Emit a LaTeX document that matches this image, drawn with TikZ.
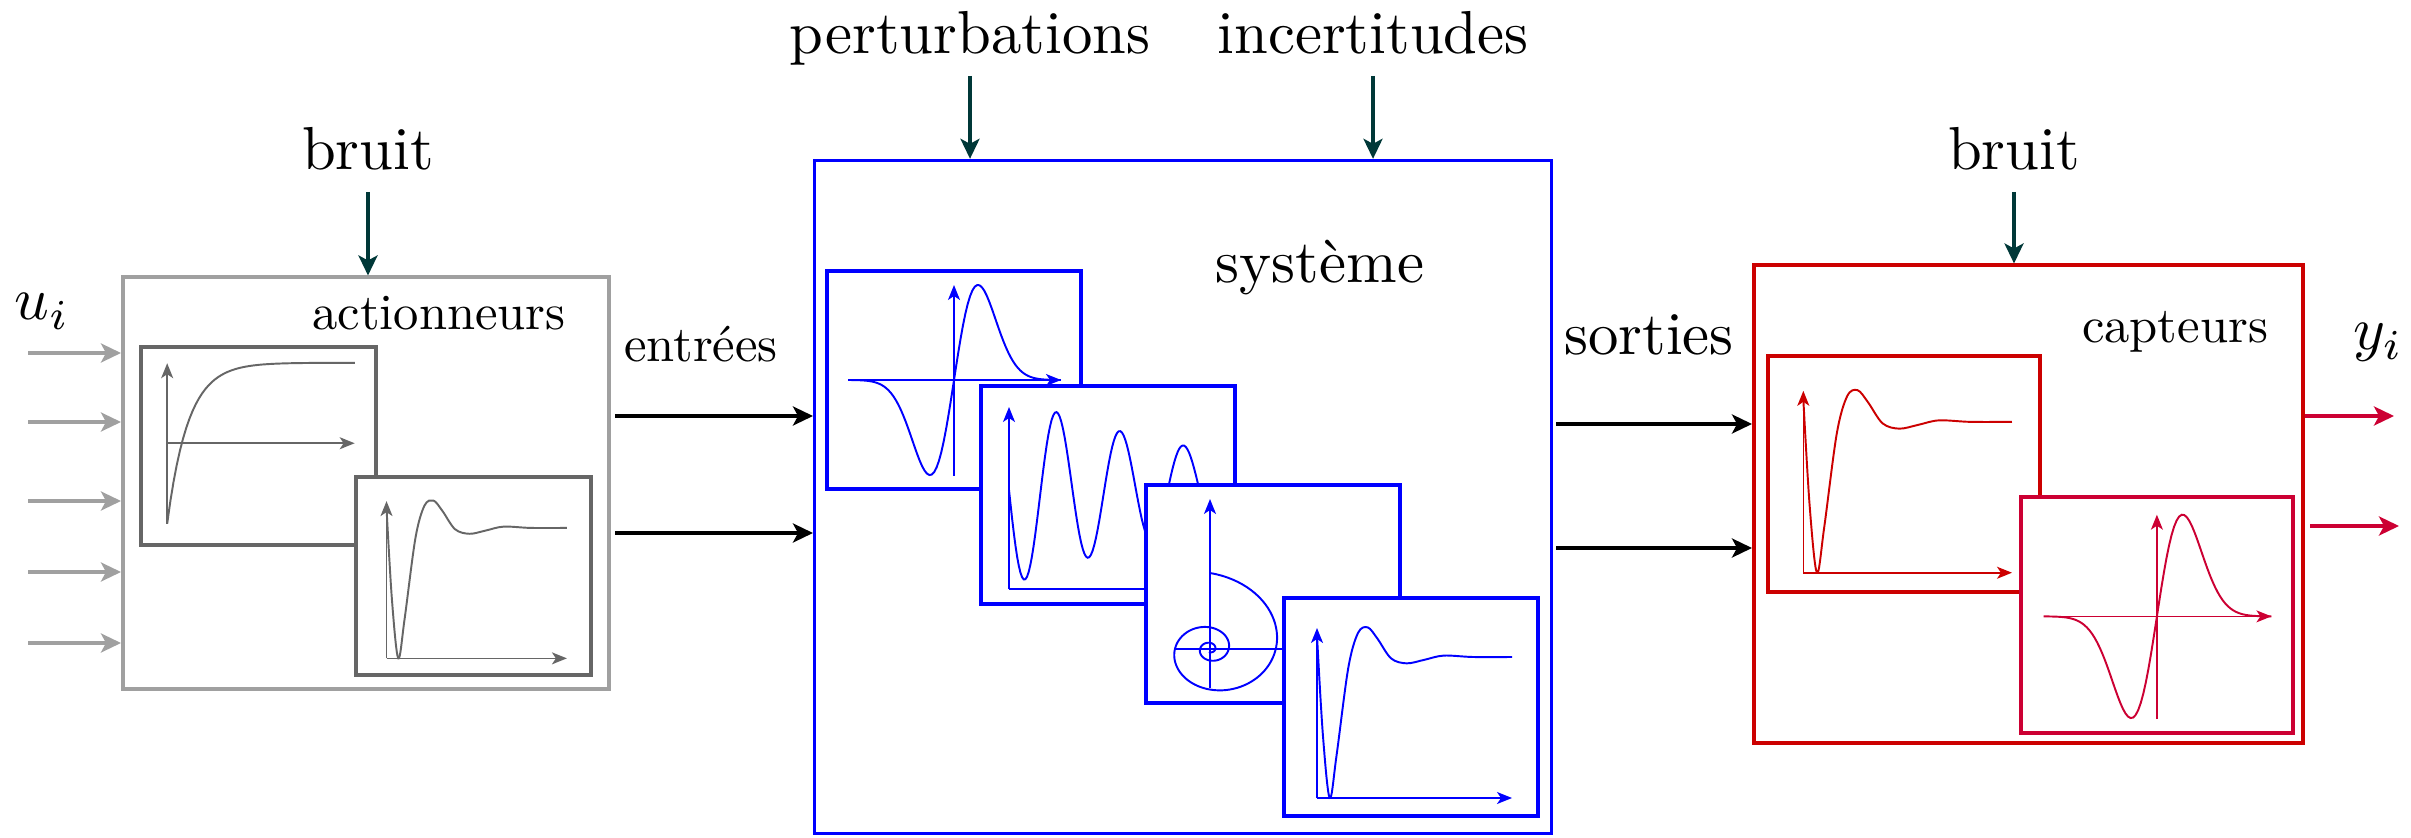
\documentclass[tikz,border=0pt]{standalone}
\usepackage{fontspec}
\usepackage{amsmath}
\usepackage{graphicx}
\usepackage{tikz}
\usetikzlibrary{arrows.meta}
\usepackage{xcolor}
\definecolor{actgris}{RGB}{160,160,160}
\definecolor{actfonce}{RGB}{102,102,102}
\definecolor{sysbleu}{RGB}{0,0,255}
\definecolor{caprouge}{RGB}{204,0,0}
\definecolor{capcarmin}{RGB}{204,0,51}
\definecolor{bruitvert}{RGB}{0,56,56}

% Textes agrandis
\newcommand{\gtxt}[1]{\scalebox{1.728}{#1}}
\newcommand{\mtxt}[1]{\scalebox{1.44}{#1}}

% Courbes des petits cadres (cadre de 2.54cm x 2.18cm)
\newcommand{\repExp}{%
  \draw[axe] (0.283,0.23) -- (0.283,1.965);
  \draw[axe] (0.283,1.10) -- (2.31,1.10);
  \draw[courbe] plot[domain=0:2.03, samples=60] ({0.283+\x},{1.10+0.87*(1-2*exp(-4.39*\x))});
}
\newcommand{\repInverse}{%
  \draw[axe] (0.33,0.18) -- (0.33,1.88);
  \draw[axe] (0.33,0.18) -- (2.28,0.18);
  \draw[courbe, shift={(0.33,0.18)}, xscale=1.95, yscale=1.41] plot[smooth, tension=0.55] coordinates {(0,1.15) (0.03,0.45) (0.065,0) (0.1,0.3) (0.16,0.92) (0.21,1.17) (0.26,1.21) (0.31,1.13) (0.38,0.99) (0.46,0.955) (0.55,0.98) (0.65,1.01) (0.8,1.0) (1,1)};
}
\newcommand{\repDerivee}{%
  \draw[axe] (0.21,1.09) -- (2.34,1.09);
  \draw[axe] (1.27,0.13) -- (1.27,2.04);
  \draw[courbe] plot[domain=-1.06:1.07, samples=90] ({1.27+\x},{1.09+6.53*\x*exp(-8.68*\x*\x)});
}
\newcommand{\repAmortie}{%
  \draw[axe] (0.28,0.15) -- (0.28,1.97);
  \draw[axe] (0.28,0.15) -- (2.3,0.15);
  \draw[courbe] plot[domain=0:1.95, samples=120] ({0.28+\x},{1.14-0.96*exp(-0.44*\x)*sin(567*\x)});
}
\newcommand{\repSpirale}{%
  \draw[axe] (0.64,0.15) -- (0.64,2.04);
  \draw[axe] (0.28,0.54) -- (2.3,0.54);
  \draw[courbe] plot[domain=0:16, samples=240] ({0.64+0.9*exp(-0.2*\x)*sin(\x r)},{0.54+0.76*exp(-0.2*\x)*cos(\x r)});
}

\begin{document}
\begin{tikzpicture}[thick,
    grand/.style={draw, rectangle, line width=1pt, anchor=south west},
    petit/.style={draw, rectangle, fill=white, line width=1.2pt, anchor=south west, outer sep=0pt},
    fleche/.style={-{Stealth[length=2mm, width=1.9mm, inset=0.5mm]}, line width=1pt},
    axe/.style={-{Stealth[length=1.5mm, width=1.2mm, inset=0.4mm]}, line width=0.45pt},
    courbe/.style={line width=0.55pt},
    titre/.style={anchor=base, text depth=0pt, inner sep=5.8pt}]
    \useasboundingbox (0,0) rectangle (24.11,8.37);

    % Blocs
    \node[grand, draw=actgris, minimum width=4.86cm, minimum height=4.12cm] (act) at (1.21,1.46) {};
    \node[grand, draw=sysbleu, line width=0.9pt, minimum width=7.37cm, minimum height=6.73cm] (sys) at (8.13,0.02) {};
    \node[grand, draw=caprouge, minimum width=5.49cm, minimum height=4.78cm] (cap) at (17.52,0.92) {};

    % Actionneurs
    \node[petit, draw=actfonce, minimum width=2.35cm, minimum height=1.98cm] (a1) at (1.41,2.92) {};
    \begin{scope}[shift={(a1.south west)}, scale=0.925, color=actfonce] \repExp \end{scope}
    \node[petit, draw=actfonce, minimum width=2.35cm, minimum height=1.98cm] (a2) at (3.56,1.62) {};
    \begin{scope}[shift={(a2.south west)}, scale=0.925, color=actfonce] \repInverse \end{scope}

    % Systeme
    \node[petit, draw=sysbleu, minimum width=2.54cm, minimum height=2.18cm] (s1) at (8.27,3.48) {};
    \begin{scope}[shift={(s1.south west)}, color=sysbleu] \repDerivee \end{scope}
    \node[petit, draw=sysbleu, minimum width=2.54cm, minimum height=2.18cm] (s2) at (9.81,2.33) {};
    \begin{scope}[shift={(s2.south west)}, color=sysbleu] \repAmortie \end{scope}
    \node[petit, draw=sysbleu, minimum width=2.54cm, minimum height=2.18cm] (s3) at (11.46,1.34) {};
    \begin{scope}[shift={(s3.south west)}, color=sysbleu] \repSpirale \end{scope}
    \node[petit, draw=sysbleu, minimum width=2.54cm, minimum height=2.18cm] (s4) at (12.84,0.21) {};
    \begin{scope}[shift={(s4.south west)}, color=sysbleu] \repInverse \end{scope}

    % Capteurs
    \node[petit, draw=caprouge, minimum width=2.72cm, minimum height=2.36cm] (c1) at (17.68,2.45) {};
    \begin{scope}[shift={(c1.south west)}, scale=1.07, color=caprouge] \repInverse \end{scope}
    \node[petit, draw=capcarmin, minimum width=2.72cm, minimum height=2.36cm] (c2) at (20.21,1.04) {};
    \begin{scope}[shift={(c2.south west)}, scale=1.07, color=capcarmin] \repDerivee \end{scope}

    % Textes
    \node[titre] (ui) at (0.42,5.17) {\gtxt{$u_i$}};
    \node[titre] (yi) at (23.78,4.87) {\gtxt{$y_i$}};
    \node[titre] (bruitA) at (3.68,6.67) {\gtxt{bruit}};
    \node[titre] (bruitC) at (20.14,6.67) {\gtxt{bruit}};
    \node[titre] (pert) at (9.70,7.83) {\gtxt{perturbations}};
    \node[titre] (incert) at (13.73,7.83) {\gtxt{incertitudes}};
    \node[titre] (systxt) at (13.20,5.54) {\gtxt{système}};
    \node[titre] (sortxt) at (16.49,4.82) {\gtxt{sorties}};
    \node[titre] (acttxt) at (4.39,5.07) {\mtxt{actionneurs}};
    \node[titre] (enttxt) at (7.01,4.75) {\mtxt{entrées}};
    \node[titre] (captxt) at (21.75,4.94) {\mtxt{capteurs}};

    % Fleches
    \foreach \y [count=\i] in {4.84,4.15,3.36,2.65,1.94} {
        \coordinate (u\i) at (0.28,\y);
        \draw[fleche, actgris] (u\i) -- (u\i -| act.west);
    }
    \coordinate (e1) at (6.15,4.21);
    \coordinate (e2) at (6.15,3.04);
    \draw[fleche] (e1) -- (e1 -| sys.west);
    \draw[fleche] (e2) -- (e2 -| sys.west);
    \coordinate (so1) at (15.56,4.13);
    \coordinate (so2) at (15.56,2.89);
    \draw[fleche] (so1) -- (so1 -| cap.west);
    \draw[fleche] (so2) -- (so2 -| cap.west);
    \coordinate (y1) at (23.94,4.21);
    \coordinate (y2a) at (23.10,3.11);
    \coordinate (y2) at (23.99,3.11);
    \draw[fleche, capcarmin] (cap.east |- y1) -- (y1);
    \draw[fleche, capcarmin] (y2a) -- (y2);
    \draw[fleche, bruitvert] (bruitA.south) -- (bruitA.south |- act.north);
    \draw[fleche, bruitvert] (bruitC.south) -- (bruitC.south |- cap.north);
    \draw[fleche, bruitvert] (pert.south) -- (pert.south |- sys.north);
    \draw[fleche, bruitvert] (incert.south) -- (incert.south |- sys.north);
\end{tikzpicture}
\end{document}
